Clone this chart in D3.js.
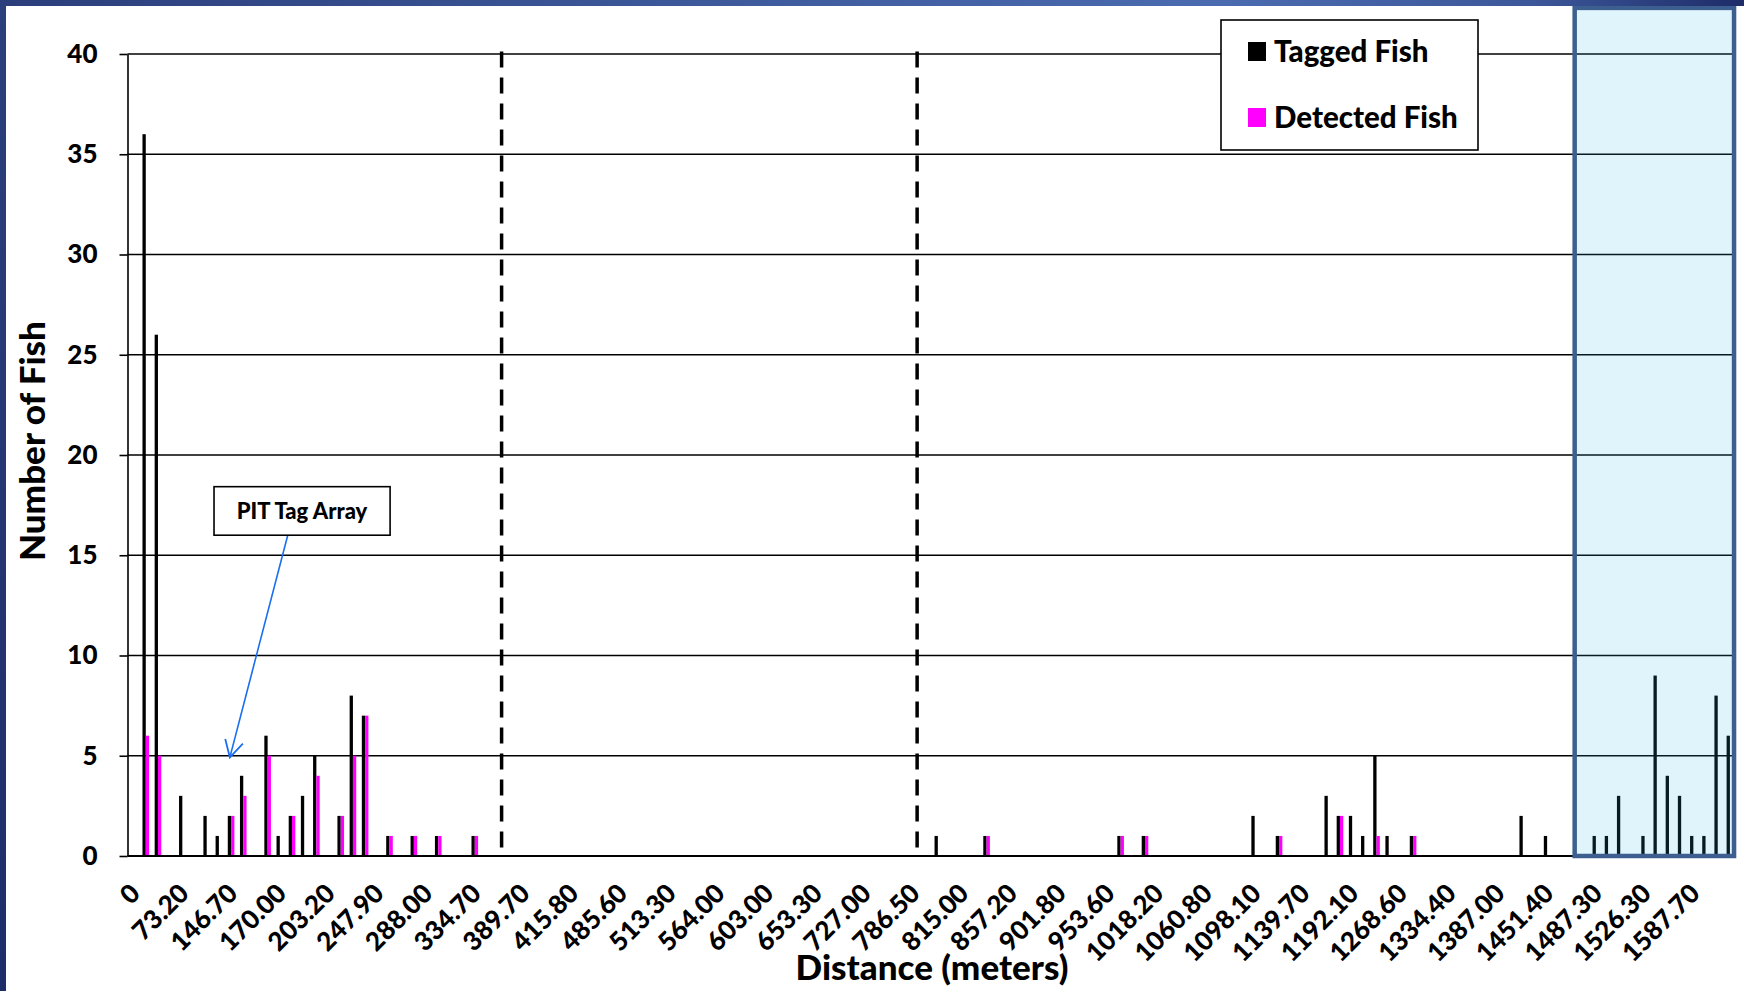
<!DOCTYPE html>
<html><head><meta charset="utf-8">
<script src="https://cdn.jsdelivr.net/npm/d3@7"></script>
<style>
html,body{margin:0;padding:0;background:#fff;}
svg{display:block;font-family:Lato,"Open Sans",sans-serif;font-weight:900;}
</style>
</head><body>
<svg id="c" width="1744" height="991"></svg>
<script>
// ---------- data ----------
const tickLabels = ["0","73.20","146.70","170.00","203.20","247.90","288.00","334.70","389.70",
  "415.80","485.60","513.30","564.00","603.00","653.30","727.00","786.50","815.00","857.20",
  "901.80","953.60","1018.20","1060.80","1098.10","1139.70","1192.10","1268.60","1334.40",
  "1387.00","1451.40","1487.30","1526.30","1587.70"];
const labelEvery = 4;            // one label for every 4 distance classes
const tagged = [
  0,36,26,0,3,0,2,1,2,4,0,6,
  1,2,3,5,0,2,8,7,0,1,0,1,
  0,1,0,0,1,0,0,0,0,0,0,0,
  0,0,0,0,0,0,0,0,0,0,0,0,
  0,0,0,0,0,0,0,0,0,0,0,0,
  0,0,0,0,0,0,1,0,0,0,1,0,
  0,0,0,0,0,0,0,0,0,1,0,1,
  0,0,0,0,0,0,0,0,2,0,1,0,
  0,0,3,2,2,1,5,1,0,1,0,0,
  0,0,0,0,0,0,2,0,1,0,0,0,
  1,1,3,0,1,9,4,3,1,1,8,6];
const detected = [
  0,6,5,0,0,0,0,0,2,3,0,5,
  0,2,0,4,0,2,5,7,0,1,0,1,
  0,1,0,0,1,0,0,0,0,0,0,0,
  0,0,0,0,0,0,0,0,0,0,0,0,
  0,0,0,0,0,0,0,0,0,0,0,0,
  0,0,0,0,0,0,0,0,0,0,1,0,
  0,0,0,0,0,0,0,0,0,1,0,1,
  0,0,0,0,0,0,0,0,0,0,1,0,
  0,0,0,2,0,0,1,0,0,1,0,0,
  0,0,0,0,0,0,0,0,0,0,0,0,
  0,0,0,0,0,0,0,0,0,0,0,0];
const seriesNames = ["Tagged Fish","Detected Fish"];
const seriesColors = ["#000000","#FF00FF"];
const yTicks = [0,5,10,15,20,25,30,35,40];
const yMax = 40;
const xTitle = "Distance (meters)";
const yTitle = "Number of Fish";
// annotations in data units (category units on x, fish counts on y)
const dashedAt = [30.7, 64.8];
const highlight = {from:118.76, to:131.84, top:42.3};
const callout = {text:"PIT Tag Array", x0:7.1, x1:21.55, y0:16.0, y1:18.42,
                 fromX:13.15, fromY:16.0, toX:8.4, toY:4.92};

// ---------- layout ----------
const W = 1744, H = 991;
const mLeft = 127.5, mRight = 1736, mTop = 54, mBottom = 856;
const n = tagged.length;
const svg = d3.select("#c");

const x0 = d3.scaleBand().domain(d3.range(n)).range([mLeft, mRight]).padding(0);
const xu = d3.scaleLinear().domain([0, n]).range([mLeft, mRight]);
const x1 = d3.scaleBand().domain([0,1]).range([0, x0.bandwidth()]).paddingInner(0).paddingOuter(0.845);
const y = d3.scaleLinear().domain([0, yMax]).range([mBottom, mTop]);

const defs = svg.append("defs");
const gTop = defs.append("linearGradient").attr("id","gtop").attr("x1","0").attr("x2","1").attr("y1","0").attr("y2","0");
[["0%","#2B3E7B"],["45%","#3F5C9E"],["70%","#4B6BB0"],["88%","#3C5799"],["100%","#1E2C68"]]
  .forEach(([o,c])=>gTop.append("stop").attr("offset",o).attr("stop-color",c));
const gLeft = defs.append("linearGradient").attr("id","gleft").attr("x1","0").attr("x2","0").attr("y1","0").attr("y2","1");
[["0%","#2C3F7D"],["100%","#1D2D69"]].forEach(([o,c])=>gLeft.append("stop").attr("offset",o).attr("stop-color",c));

// gridlines
svg.append("g").selectAll("line").data(yTicks.filter(t=>t>0)).join("line")
  .attr("x1", mLeft).attr("x2", mRight).attr("y1", d=>y(d)).attr("y2", d=>y(d))
  .attr("stroke","#000").attr("stroke-width",1.6);

// y axis
const yAxis = svg.append("g").attr("transform",`translate(${mLeft},0)`)
  .call(d3.axisLeft(y).tickValues(yTicks).tickSize(8).tickPadding(22).tickSizeOuter(0));
yAxis.select(".domain").attr("stroke","#000").attr("stroke-width",1.6);
yAxis.selectAll(".tick line").attr("stroke","#000").attr("stroke-width",1.6);
yAxis.selectAll(".tick text").attr("font-family","Lato").attr("font-weight","900")
  .attr("font-size",26).attr("fill","#000");

// bars
const bars = svg.append("g");
[tagged, detected].forEach((vals, s) => {
  bars.append("g").selectAll("rect").data(vals.map((v,i)=>({v,i})).filter(d=>d.v>0)).join("rect")
    .attr("x", d=>x0(d.i)+x1(s)).attr("width", x1.bandwidth())
    .attr("y", d=>y(d.v)).attr("height", d=>y(0)-y(d.v))
    .attr("fill", seriesColors[s]);
});

// x axis baseline
svg.append("line").attr("x1",mLeft).attr("x2",mRight).attr("y1",y(0)).attr("y2",y(0))
  .attr("stroke","#000").attr("stroke-width",2.2);

// x tick labels
svg.append("g").selectAll("text").data(tickLabels).join("text")
  .attr("transform",(d,k)=>`translate(${x0(k*labelEvery)+x0.bandwidth()/2+8},${y(0)+39}) rotate(-45)`)
  .attr("text-anchor","end").attr("font-size",26).attr("fill","#000").text(d=>d);

// dashed lines
svg.append("g").selectAll("line").data(dashedAt).join("line")
  .attr("x1",d=>xu(d)).attr("x2",d=>xu(d)).attr("y1",y(40.12)).attr("y2",y(0.25))
  .attr("stroke","#000").attr("stroke-width",3.5).attr("stroke-dasharray","16,10");

// highlight box
svg.append("rect").attr("x",xu(highlight.from)).attr("width",xu(highlight.to)-xu(highlight.from))
  .attr("y",y(highlight.top)).attr("height",y(0)-y(highlight.top))
  .attr("fill","#30B6EB").attr("fill-opacity",0.15)
  .attr("stroke","#3C5F8F").attr("stroke-width",4.5);

// legend
const lg = svg.append("g");
lg.append("rect").attr("x",1221).attr("y",20).attr("width",257).attr("height",130)
  .attr("fill","#fff").attr("stroke","#000").attr("stroke-width",1.6);
seriesNames.forEach((nm,s)=>{
  lg.append("rect").attr("x",1248).attr("y",42+s*66).attr("width",18).attr("height",19).attr("fill",seriesColors[s]);
  lg.append("text").attr("x",1274).attr("y",62+s*66).attr("font-size",29.5).attr("fill","#000").text(nm);
});

// callout
const cg = svg.append("g");
cg.append("line").attr("x1",xu(callout.fromX)).attr("y1",y(callout.fromY)).attr("x2",xu(callout.toX)).attr("y2",y(callout.toY))
  .attr("stroke","#1A6FF0").attr("stroke-width",1.6);
{
  const tx = xu(callout.toX), ty = y(callout.toY);
  const ang = Math.atan2(y(callout.fromY)-ty, xu(callout.fromX)-tx);
  const L = 19, spread = 0.5;
  const pts = [ang-spread, ang+spread].map(a=>[tx+L*Math.cos(a), ty+L*Math.sin(a)]);
  cg.append("path").attr("d",`M${pts[0][0]},${pts[0][1]}L${tx},${ty}L${pts[1][0]},${pts[1][1]}`)
    .attr("fill","none").attr("stroke","#1A6FF0").attr("stroke-width",1.8);
}
cg.append("rect").attr("x",xu(callout.x0)).attr("y",y(callout.y1)).attr("width",xu(callout.x1)-xu(callout.x0))
  .attr("height",y(callout.y0)-y(callout.y1)).attr("fill","#fff").attr("stroke","#000").attr("stroke-width",1.6);
cg.append("text").attr("x",(xu(callout.x0)+xu(callout.x1))/2).attr("y",y(callout.y0)-16)
  .attr("text-anchor","middle").attr("font-size",22).attr("fill","#000").text(callout.text);

// titles
svg.append("text").attr("x",932).attr("y",980).attr("text-anchor","middle").attr("font-size",35).attr("fill","#000").text(xTitle);
svg.append("text").attr("transform","translate(45,441) rotate(-90)").attr("text-anchor","middle")
  .attr("font-size",35).attr("fill","#000").text(yTitle);

// frame
svg.append("rect").attr("x",0).attr("y",0).attr("width",W).attr("height",6).attr("fill","url(#gtop)");
svg.append("rect").attr("x",0).attr("y",0).attr("width",6).attr("height",H).attr("fill","url(#gleft)");
</script>
</body></html>
